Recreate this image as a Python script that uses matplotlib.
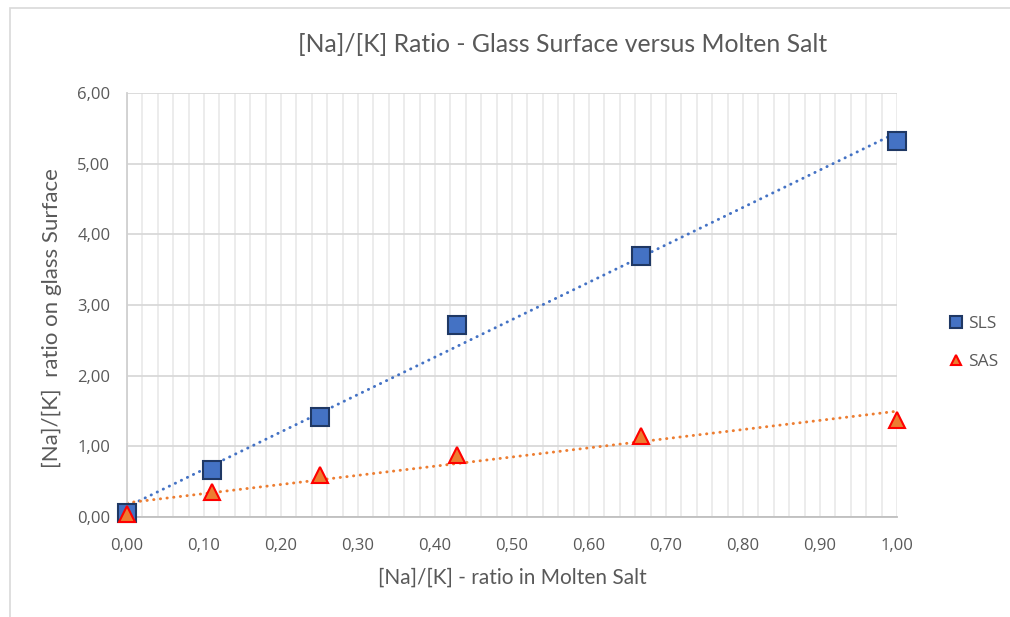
import numpy as np
import matplotlib
matplotlib.use("Agg")
import matplotlib.pyplot as plt
from matplotlib.ticker import MultipleLocator, FuncFormatter
from matplotlib.patches import Rectangle

x_vals = [0.0, 0.111, 0.25, 0.429, 0.667, 1.0]
sls = [0.06, 0.67, 1.42, 2.72, 3.69, 5.32]
sas = [0.04, 0.36, 0.59, 0.88, 1.15, 1.37]
series_names = ["SLS", "SAS"]

title = "[Na]/[K] Ratio - Glass Surface versus Molten Salt"
xlabel = "[Na]/[K] - ratio in Molten Salt"
ylabel = "[Na]/[K]  ratio on glass Surface"

plt.rcParams['font.family'] = ['Open Sans', 'DejaVu Sans']
txt = '#595959'
titlefont = ['Lato', 'DejaVu Sans']

fig = plt.figure(figsize=(10.10, 6.17), dpi=100)
fig.patches.append(Rectangle((10/1010, -0.1), 1.2, 1 - 8/617 + 0.1, transform=fig.transFigure,
                             fill=False, edgecolor='#D9D9D9', linewidth=1.2))
ax = fig.add_axes([127/1010, 1 - 517/617, (897-127)/1010, (517-93)/617])

ax.set_xlim(0, 1.0)
ax.set_ylim(0, 6.0)
ax.xaxis.set_major_locator(MultipleLocator(0.1))
ax.xaxis.set_minor_locator(MultipleLocator(0.02))
ax.yaxis.set_major_locator(MultipleLocator(1.0))
fmt = FuncFormatter(lambda v, p: f"{v:.2f}".replace('.', ','))
ax.xaxis.set_major_formatter(fmt)
ax.yaxis.set_major_formatter(fmt)

ax.grid(which='major', axis='y', color='#D9D9D9', linewidth=1.3)
ax.grid(which='both', axis='x', color='#EBEBEB', linewidth=1.3)
ax.set_axisbelow(True)
for s in ['top', 'right']:
    ax.spines[s].set_visible(False)
ax.spines['bottom'].set_color('#BFBFBF')
ax.spines['bottom'].set_linewidth(1.3)
ax.spines['left'].set_color('#D0D0D0')
ax.spines['left'].set_linewidth(1.3)
ax.tick_params(which='both', length=0, colors=txt, labelsize=12)
ax.tick_params(axis='x', pad=15)
ax.tick_params(axis='y', pad=12)

xs = np.array(x_vals)
xl = np.array([0.0, 1.0])
c1 = np.polyfit(xs, sls, 1)
c2 = np.polyfit(xs, sas, 1)
ax.plot(xl, np.polyval(c1, xl), color='#4472C4', linestyle=(0, (0.1, 2.2)),
        linewidth=2.1, dash_capstyle='round', zorder=2)
ax.plot(xl, np.polyval(c2, xl), color='#ED7D31', linestyle=(0, (0.1, 2.2)),
        linewidth=2.1, dash_capstyle='round', zorder=2)

ax.plot(xs, sls, linestyle='none', marker='s', markersize=12.5, markerfacecolor='#4472C4',
        markeredgecolor='#1F3864', markeredgewidth=1.5, label=series_names[0], zorder=3, clip_on=False)
ax.plot(xs, sas, linestyle='none', marker='^', markersize=11.5, markerfacecolor='#ED7D31',
        markeredgecolor='#FF0000', markeredgewidth=1.5, label=series_names[1], zorder=4, clip_on=False)

fig.text(563/1010, 1 - 45/617, title, fontsize=17.8, color=txt, ha='center', va='center',
         family=titlefont)
fig.text(512/1010, 1 - 578/617, xlabel, fontsize=15, color=txt, ha='center', va='center',
         family=titlefont)
fig.text(52/1010, 1 - 318/617, ylabel, fontsize=16, color=txt, ha='center', va='center',
         rotation=90, family=titlefont)

leg = fig.legend(loc='center left', bbox_to_anchor=(933/1010, 1 - 343/617), frameon=False,
                 labelcolor=txt, handlelength=0.8, handletextpad=0.3,
                 labelspacing=1.3, markerscale=0.65, prop={'size': 12.5})

fig.savefig('out.png', dpi=100)
